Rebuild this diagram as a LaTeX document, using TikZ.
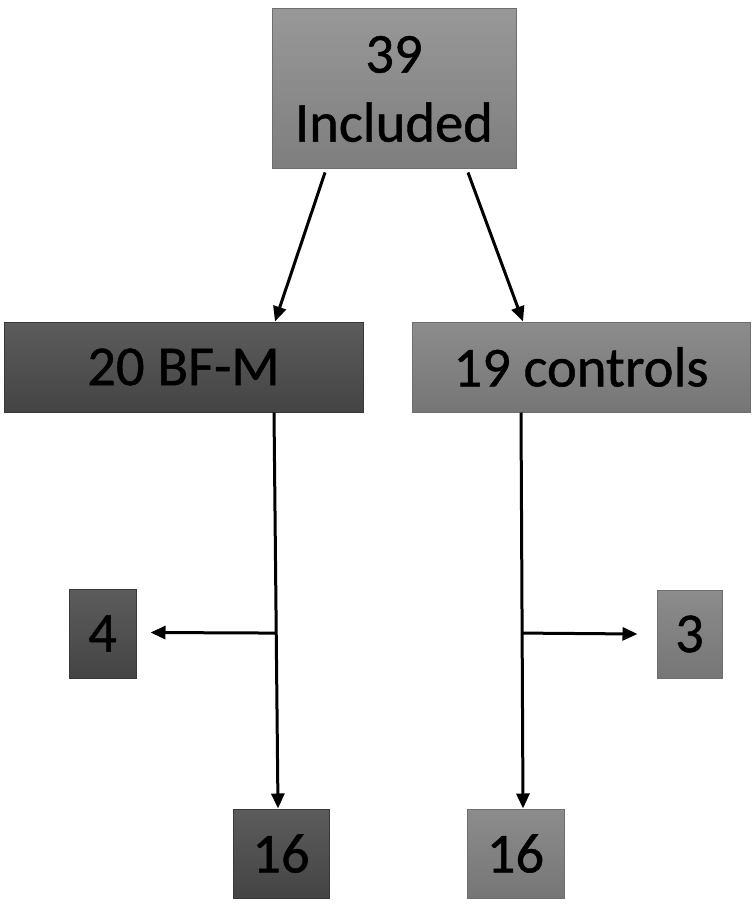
\documentclass[tikz,border=0pt]{standalone}
\usepackage{fontspec}
\setmainfont{Carlito}[FakeBold=0.8]
\usetikzlibrary{arrows.meta,calc}
\definecolor{lightTop}{HTML}{989898}
\definecolor{lightBot}{HTML}{7E7E7E}
\definecolor{midTop}{HTML}{8C8C8C}
\definecolor{midBot}{HTML}{767676}
\definecolor{darkTop}{HTML}{5C5C5C}
\definecolor{darkBot}{HTML}{444444}
\definecolor{edgeLight}{HTML}{6E6E6E}
\definecolor{edgeDark}{HTML}{383838}
\tikzset{
  box/.style={rectangle, inner sep=0pt, line width=1pt, align=center,
    font=\fontsize{56.5}{69}\selectfont, text=black},
  lightbox/.style={box, draw=edgeLight, top color=lightTop, bottom color=lightBot},
  midbox/.style={box, draw=edgeLight, top color=midTop, bottom color=midBot},
  darkbox/.style={box, draw=edgeDark, top color=darkTop, bottom color=darkBot},
  conn/.style={draw=black, line width=3pt, -{Triangle[length=15pt,width=13pt]}}
}
\begin{document}
\begin{tikzpicture}[x=1pt,y=-1pt]
\useasboundingbox (0,0) rectangle (755,912);
\node[lightbox, minimum width=244pt, minimum height=160pt] (top) at (394,89) {39\\Included};
\node[darkbox, minimum width=359pt, minimum height=90pt] (bfm) at (183.5,367) {20 BF-M};
\node[midbox, minimum width=338pt, minimum height=90pt] (ctl) at (581,367) {19 controls};
\node[darkbox, minimum width=67pt, minimum height=89pt] (four) at (102.5,633.5) {4};
\node[midbox, minimum width=65pt, minimum height=88pt] (three) at (689.5,634) {3};
\node[darkbox, minimum width=96pt, minimum height=89pt] (l16) at (281,853.5) {16};
\node[midbox, minimum width=97pt, minimum height=89pt] (r16) at (515.5,853.5) {16};
% top to second row
\draw[conn] ([xshift=-69pt,yshift=-3pt]top.south) -- ([xshift=91.5pt]bfm.north);
\draw[conn] ([xshift=74pt,yshift=-3pt]top.south) -- ([xshift=-58pt]ctl.north);
% left branch
\coordinate (ls) at ([xshift=90.5pt]bfm.south);
\coordinate (le) at ([xshift=-3pt]l16.north);
\draw[conn] (ls) -- (le);
\coordinate (lj) at ($(ls)!0.557!(le)$);
\draw[conn] (lj) -- ([xshift=14pt,yshift=1pt]four.east);
% right branch
\coordinate (rs) at ([xshift=-60pt]ctl.south);
\coordinate (re) at ([xshift=7.5pt]r16.north);
\draw[conn] (rs) -- (re);
\coordinate (rj) at ($(rs)!0.557!(re)$);
\draw[conn] (rj) -- ([xshift=-19pt]three.west);
\end{tikzpicture}
\end{document}
